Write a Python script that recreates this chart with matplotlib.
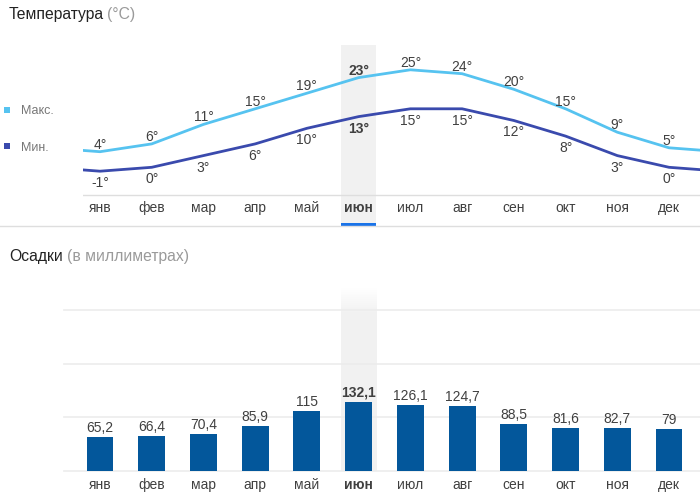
import matplotlib
matplotlib.use('Agg')
import matplotlib.pyplot as plt
import numpy as np
from matplotlib.patches import Rectangle
from matplotlib.lines import Line2D

plt.rcParams['font.family'] = ['Liberation Sans', 'DejaVu Sans']

# ---------------- data ----------------
months = ['янв', 'фев', 'мар', 'апр', 'май', 'июн', 'июл', 'авг', 'сен', 'окт', 'ноя', 'дек']
t_max = [4, 6, 11, 15, 19, 23, 25, 24, 20, 15, 9, 5]
t_min = [-1, 0, 3, 6, 10, 13, 15, 15, 12, 8, 3, 0]
precip = [65.2, 66.4, 70.4, 85.9, 115, 132.1, 126.1, 124.7, 88.5, 81.6, 82.7, 79]
highlight = 5  # июн
legend_labels = ['Макс.', 'Мин.']

# ---------------- style ----------------
C_MAX = '#56c3f0'
C_MIN = '#3a4aad'
C_BAR = '#03579b'
C_HL = '#1a73e8'
C_BAND = '#f1f1f1'
C_TXT = '#404040'
C_SUB = '#9a9a9a'
C_LINE = '#dedede'
C_GRID = '#ececec'

W, H = 700, 495
fig = plt.figure(figsize=(W / 100, H / 100), dpi=100)


def add_axes_px(l, t, r, b):
    return fig.add_axes([l / W, 1 - b / H, (r - l) / W, (b - t) / H])


def fig_text(px, py, s, **kw):
    return fig.text(px / W, 1 - py / H, s, **kw)


# titles
fig_text(9, 19.5, 'Температура', fontsize=11.3, color='#222222', va='baseline')
fig_text(107, 19.5, '(°C)', fontsize=11.3, color=C_SUB, va='baseline')
fig_text(9, 260.5, 'Осадки', fontsize=11.3, color='#222222', va='baseline')
fig_text(67, 260.5, '(в миллиметрах)', fontsize=11.3, color=C_SUB, va='baseline')

# legend
for (lbl, col, ysq) in zip(legend_labels, [C_MAX, C_MIN], [107, 143]):
    fig.add_artist(Rectangle((4 / W, 1 - (ysq + 6) / H), 6 / W, 6 / H,
                             transform=fig.transFigure, color=col, lw=0))
    fig_text(21, ysq + 7.5, lbl, fontsize=9, color='#777777', va='baseline')

# full-width separator
fig.add_artist(Line2D([0, 1], [1 - 226 / H] * 2, transform=fig.transFigure,
                      color=C_LINE, lw=1))

# ---------------- temperature panel ----------------
SPX = 51.73  # px per month
ax = add_axes_px(83, 45, 700, 226)
ax.set_xlim((83 - 100) / SPX, (700 - 100) / SPX)
ax.set_ylim((167.3 - 226) / 3.9, (167.3 - 45) / 3.9)
ax.axis('off')

ax.axvspan(highlight - 0.34, highlight + 0.34, color=C_BAND, zorder=0, lw=0)
ax.axvspan(highlight - 0.34, highlight + 0.34, ymin=0, ymax=3.5 / 181, color=C_HL, zorder=1, lw=0)
ax.add_line(Line2D([0, 1], [(226 - 195) / 181] * 2, transform=ax.transAxes, color=C_LINE, lw=1))

x = np.arange(12)
xe = np.arange(-1, 13)
ax.plot(xe, [t_max[-1]] + t_max + [t_max[0]], color=C_MAX, lw=2, zorder=3, solid_joinstyle='round')
ax.plot(xe, [t_min[-1]] + t_min + [t_min[0]], color=C_MIN, lw=2, zorder=3, solid_joinstyle='round')

for i in x:
    w = 'bold' if i == highlight else 'normal'
    ax.annotate(f'{t_max[i]}°', (i, t_max[i]), xytext=(0, 3), textcoords='offset pixels',
                ha='center', va='baseline', fontsize=10, color=C_TXT, fontweight=w, zorder=4)
    ax.annotate(f'{t_min[i]}°', (i, t_min[i]), xytext=(0, -16), textcoords='offset pixels',
                ha='center', va='baseline', fontsize=10, color=C_TXT, fontweight=w, zorder=4)
    ax.text(i, (226 - 212) / 181, months[i], transform=ax.get_xaxis_transform(),
            ha='center', va='baseline', fontsize=10, color=C_TXT, fontweight=w)

# ---------------- precipitation panel ----------------
PXMM = 0.5223
ax2 = add_axes_px(64, 287, 700, 470.7)
ax2.set_xlim((64 - 100) / SPX, (700 - 100) / SPX)
top = (470.7 - 287) / PXMM
ax2.set_ylim(0, top)
for s in ax2.spines.values():
    s.set_visible(False)
ax2.set_xticks([])
ax2.set_yticks([])
step = 102.6
for k in range(4):
    ax2.axhline(k * step, color=C_GRID, lw=1.2, zorder=1, clip_on=False)

# highlight band with faded top
grad = np.ones((100, 1, 4))
grad[..., :3] = 0.947
fade = np.clip(np.linspace(0, 1, 100) * 7, 0, 1)
grad[:, 0, 3] = fade
ax2.imshow(grad, extent=[highlight - 0.34, highlight + 0.34, 0, top], aspect='auto',
           origin='upper', zorder=0, interpolation='bilinear')
ax2.set_xlim((64 - 100) / SPX, (700 - 100) / SPX)
ax2.set_ylim(0, top)

ax2.bar(x, precip, width=0.52, color=C_BAR, zorder=2)
for i in x:
    w = 'bold' if i == highlight else 'normal'
    lbl = f'{precip[i]:g}'.replace('.', ',')
    ax2.annotate(lbl, (i, precip[i]), xytext=(0, 5), textcoords='offset pixels',
                 ha='center', va='baseline', fontsize=10, color=C_TXT, fontweight=w)
    ax2.text(i, -(489 - 470.7) / 183.7, months[i], transform=ax2.get_xaxis_transform(),
             ha='center', va='baseline', fontsize=10, color=C_TXT, fontweight=w)

fig.savefig('out.png', dpi=100)
